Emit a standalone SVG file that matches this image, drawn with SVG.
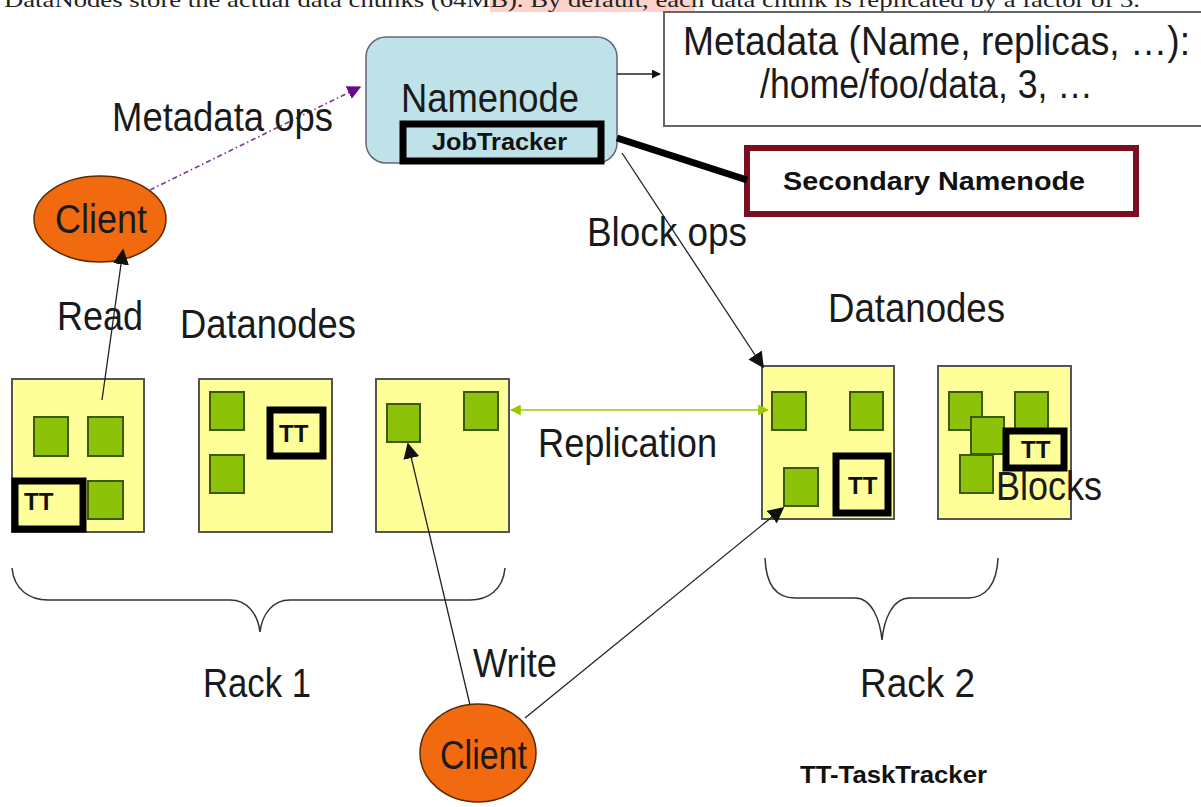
<svg xmlns="http://www.w3.org/2000/svg" width="1201" height="807" viewBox="0 0 1201 807">
<defs>
<style>
.t{font-family:"Liberation Sans",Arial,sans-serif;font-size:40px;fill:#1a1a1a}
.b{font-family:"Liberation Sans",Arial,sans-serif;font-weight:bold;fill:#111}
.rack{fill:#ffff99;stroke:#555;stroke-width:2}
.blk{fill:#8cc20a;stroke:#3d5a00;stroke-width:2}
.tt{fill:#ffff99;stroke:#000;stroke-width:7}
.ttt{font-family:"Liberation Sans",Arial,sans-serif;font-weight:bold;font-size:24px;fill:#111}
.cl{fill:#f26a10;stroke:#5a2a00;stroke-width:1.5}
.ln{stroke:#222;stroke-width:1.3;fill:none}
.brace{stroke:#333;stroke-width:1.5;fill:none}
</style>
<marker id="ah" viewBox="0 0 10 10" refX="9" refY="5" markerWidth="9" markerHeight="9" markerUnits="userSpaceOnUse" orient="auto"><path d="M0,0 L10,5 L0,10 z" fill="#111"/></marker>
<marker id="ahb" viewBox="0 0 10 10" refX="9" refY="5" markerWidth="16" markerHeight="16" markerUnits="userSpaceOnUse" orient="auto"><path d="M0,0 L10,5 L0,10 z" fill="#111"/></marker>
<marker id="ahp" viewBox="0 0 10 10" refX="9" refY="5" markerWidth="14" markerHeight="14" markerUnits="userSpaceOnUse" orient="auto"><path d="M0,0 L10,5 L0,10 z" fill="#6a0a8a"/></marker>
<marker id="ahg" viewBox="0 0 10 10" refX="9" refY="5" markerWidth="11" markerHeight="11" markerUnits="userSpaceOnUse" orient="auto-start-reverse"><path d="M0,0 L10,5 L0,10 z" fill="#99cc00"/></marker>
</defs>
<rect width="1201" height="807" fill="#fff"/>

<g id="caption">
<rect x="490" y="0" width="205" height="12" fill="#fcd2ca"/>
<text x="4" y="7" font-family="Liberation Serif,serif" font-size="22" fill="#222" textLength="1136" lengthAdjust="spacingAndGlyphs">DataNodes store the actual data chunks (64MB). By default, each data chunk is replicated by a factor of 3.</text>
</g>

<g id="namenode">
<rect x="366" y="37" width="251" height="126" rx="20" fill="#bfe1e8" stroke="#667" stroke-width="1.5"/>
<text class="t" x="401" y="112" textLength="178" lengthAdjust="spacingAndGlyphs">Namenode</text>
<rect x="403" y="124" width="198" height="37" fill="#bfe1e8" stroke="#000" stroke-width="7"/>
<text class="b" x="432" y="150" font-size="24" textLength="135" lengthAdjust="spacingAndGlyphs">JobTracker</text>
</g>

<g id="metadata">
<rect x="664" y="12" width="560" height="114" fill="#fff" stroke="#666" stroke-width="2"/>
<text class="t" x="683" y="55" textLength="507" lengthAdjust="spacingAndGlyphs">Metadata (Name, replicas, …):</text>
<text class="t" x="760" y="98" textLength="333" lengthAdjust="spacingAndGlyphs">/home/foo/data, 3, …</text>
</g>

<g id="secondary-namenode">
<rect x="747" y="148" width="389" height="66" fill="#fff" stroke="#7a0f22" stroke-width="6"/>
<text class="b" x="783" y="190" font-size="26" textLength="302" lengthAdjust="spacingAndGlyphs">Secondary Namenode</text>
</g>

<g id="client-read">
<ellipse cx="100" cy="219" rx="66" ry="43" class="cl"/>
<text class="t" x="55" y="233" textLength="92" lengthAdjust="spacingAndGlyphs">Client</text>
</g>

<g id="datanode-1">
<rect x="12" y="379" width="132" height="153" class="rack"/>
<rect x="34" y="417" width="34" height="39" class="blk"/>
<rect x="88" y="417" width="35" height="39" class="blk"/>
<rect x="88" y="481" width="35" height="38" class="blk"/>
<rect x="15" y="481" width="68" height="48" class="tt"/>
<text class="ttt" x="24" y="510">TT</text>
</g>

<g id="datanode-2">
<rect x="199" y="379" width="133" height="153" class="rack"/>
<rect x="210" y="392" width="34" height="38" class="blk"/>
<rect x="210" y="455" width="34" height="38" class="blk"/>
<rect x="270" y="410" width="53" height="46" class="tt"/>
<text class="ttt" x="279" y="442">TT</text>
</g>

<g id="datanode-3">
<rect x="376" y="379" width="133" height="153" class="rack"/>
<rect x="387" y="404" width="33" height="38" class="blk"/>
<rect x="464" y="392" width="34" height="38" class="blk"/>
</g>

<g id="datanode-4">
<rect x="762" y="366" width="132" height="153" class="rack"/>
<rect x="772" y="392" width="34" height="38" class="blk"/>
<rect x="850" y="392" width="33" height="38" class="blk"/>
<rect x="784" y="468" width="34" height="38" class="blk"/>
<rect x="836" y="456" width="52" height="57" class="tt"/>
<text class="ttt" x="848" y="494">TT</text>
</g>

<g id="datanode-5">
<rect x="938" y="366" width="133" height="153" class="rack"/>
<rect x="949" y="392" width="33" height="38" class="blk"/>
<rect x="1015" y="392" width="33" height="38" class="blk"/>
<rect x="971" y="417" width="33" height="37" class="blk"/>
<rect x="960" y="455" width="33" height="38" class="blk"/>
<rect x="1006" y="431" width="58" height="37" class="tt"/>
<text class="ttt" x="1021" y="458">TT</text>
<text class="t" x="996" y="500" textLength="106" lengthAdjust="spacingAndGlyphs">Blocks</text>
</g>

<g id="rack-braces">
<path class="brace" d="M12,568 C14,590 30,600 48,600 L230,600 C248,600 258,615 260,632 C262,615 272,600 290,600 L470,600 C488,600 503,590 505,568"/>
<path class="brace" d="M765,558 C766,585 776,598 795,598 L855,598 C872,598 880,620 882,640 C884,620 892,598 910,598 L968,598 C985,598 997,585 998,558"/>
</g>

<g id="client-write">
<ellipse cx="478" cy="753" rx="58" ry="49" class="cl"/>
<text class="t" x="440" y="769" textLength="87" lengthAdjust="spacingAndGlyphs">Client</text>
</g>

<g id="connectors">
<line x1="617" y1="74" x2="660" y2="74" class="ln" marker-end="url(#ah)"/>
<line x1="617" y1="138" x2="747" y2="180" stroke="#000" stroke-width="7"/>
<line x1="150" y1="190" x2="360" y2="87" stroke="#7a3a9a" stroke-width="1.6" stroke-dasharray="5,3,1.5,3" marker-end="url(#ahp)"/>
<line x1="102" y1="400" x2="123" y2="250" class="ln" marker-end="url(#ahb)"/>
<line x1="622" y1="153" x2="763" y2="367" class="ln" marker-end="url(#ahb)"/>
<line x1="511" y1="410" x2="768" y2="410" stroke="#99cc00" stroke-width="1.6" marker-start="url(#ahg)" marker-end="url(#ahg)"/>
<line x1="470" y1="705" x2="408" y2="444" class="ln" marker-end="url(#ahb)"/>
<line x1="525" y1="718" x2="783" y2="508" class="ln" marker-end="url(#ahb)"/>
</g>

<g id="labels">
<text class="t" x="112" y="131" textLength="221" lengthAdjust="spacingAndGlyphs">Metadata ops</text>
<text class="t" x="587" y="246" textLength="160" lengthAdjust="spacingAndGlyphs">Block ops</text>
<text class="t" x="57" y="330" textLength="86" lengthAdjust="spacingAndGlyphs">Read</text>
<text class="t" x="180" y="338" textLength="176" lengthAdjust="spacingAndGlyphs">Datanodes</text>
<text class="t" x="828" y="322" textLength="177" lengthAdjust="spacingAndGlyphs">Datanodes</text>
<text class="t" x="538" y="457" textLength="179" lengthAdjust="spacingAndGlyphs">Replication</text>
<text class="t" x="473" y="677" textLength="84" lengthAdjust="spacingAndGlyphs">Write</text>
<text class="t" x="203" y="697" textLength="108" lengthAdjust="spacingAndGlyphs">Rack 1</text>
<text class="t" x="860" y="697" textLength="115" lengthAdjust="spacingAndGlyphs">Rack 2</text>
<text class="b" x="800" y="783" font-size="24" textLength="187" lengthAdjust="spacingAndGlyphs">TT-TaskTracker</text>
</g>
</svg>
